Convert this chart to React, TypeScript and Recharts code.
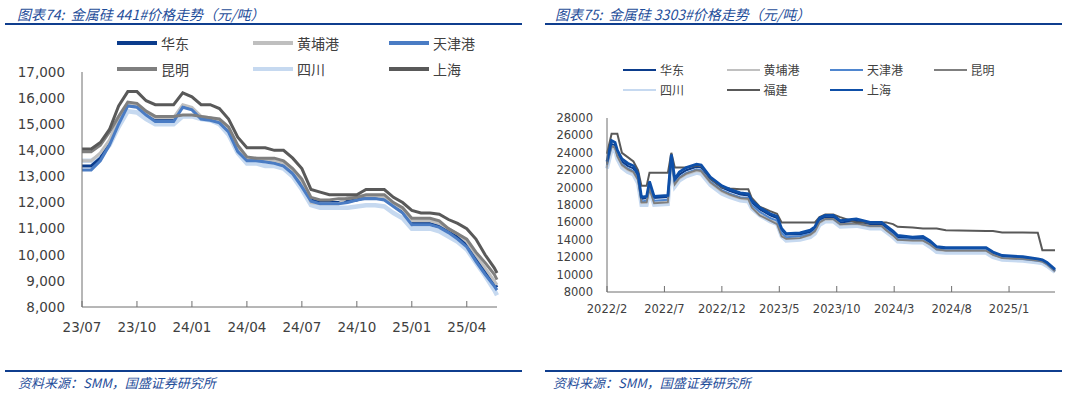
import { LineChart, Line, XAxis, YAxis } from 'recharts'

// ---- 图表74: 金属硅 441# (x = months since 2023/07) ----
const L_MONTHS = [0, 0.5, 1, 1.5, 2, 2.5, 3, 3.5, 4, 4.5, 5, 5.5, 6, 6.5, 7, 7.5, 8, 8.5, 9, 9.5, 10, 10.5, 11, 11.5, 12, 12.5, 13, 13.5, 14, 14.5, 15, 15.5, 16, 16.5, 17, 17.5, 18, 18.5, 19, 19.5, 20, 20.5, 21, 21.5, 22, 22.5, 22.65]
const L_HD = [13400, 13400, 13700, 14300, 15100, 15750, 15700, 15400, 15200, 15200, 15200, 15700, 15600, 15250, 15200, 15100, 14800, 14000, 13650, 13650, 13600, 13550, 13450, 13200, 12700, 12100, 12000, 12000, 12000, 12050, 12100, 12200, 12200, 12150, 11900, 11700, 11200, 11200, 11200, 11100, 10900, 10700, 10400, 9900, 9400, 8900, 8750]
const L_HP = [13600, 13600, 13900, 14400, 15200, 15800, 15750, 15450, 15250, 15250, 15250, 15750, 15650, 15300, 15250, 15150, 14850, 14100, 13700, 13700, 13650, 13600, 13500, 13250, 12800, 12000, 11950, 11950, 11950, 12200, 12250, 12250, 12250, 12200, 11950, 11750, 11300, 11300, 11300, 11200, 11000, 10800, 10500, 10000, 9500, 9000, 8850]
const L_TJ = [13250, 13250, 13600, 14200, 15000, 15700, 15650, 15350, 15100, 15100, 15100, 15650, 15550, 15200, 15150, 15050, 14700, 13950, 13600, 13600, 13550, 13500, 13400, 13100, 12600, 12050, 11950, 11950, 11950, 12000, 12100, 12150, 12150, 12100, 11850, 11600, 11150, 11150, 11150, 11050, 10850, 10600, 10300, 9750, 9250, 8800, 8650]
const L_KM = [13950, 13950, 14200, 14700, 15300, 15850, 15800, 15500, 15300, 15300, 15300, 15350, 15350, 15300, 15250, 15200, 14900, 14200, 13750, 13700, 13700, 13700, 13600, 13300, 12900, 12200, 12100, 12100, 12150, 12150, 12200, 12300, 12300, 12300, 12000, 11800, 11400, 11400, 11400, 11300, 11000, 10800, 10600, 10100, 9700, 9250, 9050]
const L_SC = [13600, 13600, 13800, 14200, 14900, 15500, 15450, 15200, 15000, 15000, 15000, 15300, 15300, 15200, 15150, 15000, 14600, 13900, 13500, 13500, 13400, 13400, 13300, 13000, 12500, 11900, 11800, 11800, 11800, 11800, 11850, 11900, 11900, 11850, 11600, 11400, 11000, 11000, 11000, 10900, 10700, 10500, 10200, 9700, 9200, 8650, 8450]
const L_SH = [14050, 14050, 14300, 14800, 15700, 16250, 16250, 15900, 15750, 15750, 15750, 16200, 16050, 15750, 15750, 15600, 15200, 14500, 14100, 14100, 14100, 14000, 14000, 13700, 13300, 12500, 12400, 12300, 12300, 12300, 12300, 12500, 12500, 12500, 12200, 12000, 11700, 11600, 11600, 11550, 11350, 11200, 11000, 10600, 10000, 9500, 9300]
const L_TICKS = [0, 3, 6, 9, 12, 15, 18, 21]
const L_TICK_LABELS = ['23/07', '23/10', '24/01', '24/04', '24/07', '24/10', '25/01', '25/04']
const L_Y_TICKS = [8000, 9000, 10000, 11000, 12000, 13000, 14000, 15000, 16000, 17000]

// ---- 图表75: 金属硅 3303# (x = months since 2022/02) ----
const R_MONTHS = [0, 0.4, 0.7, 0.9, 1.3, 1.8, 2.3, 2.7, 3.0, 3.45, 3.7, 4.1, 5.3, 5.6, 5.9, 6.3, 6.9, 7.8, 8.2, 9.0, 10.0, 10.7, 11.6, 12.3, 12.6, 13.3, 14.2, 14.8, 15.2, 15.6, 16.8, 17.7, 18.1, 18.5, 19.0, 19.7, 20.3, 21.7, 22.9, 23.9, 24.3, 24.9, 25.3, 26.6, 27.5, 28.1, 28.7, 29.5, 33.0, 33.6, 34.4, 36.2, 37.5, 37.9, 38.3, 39]
const R_HD = [22800, 25000, 24900, 24000, 23000, 22500, 22200, 21300, 18700, 18800, 20400, 18800, 18900, 23500, 20800, 21500, 22000, 22400, 22300, 21000, 20000, 19600, 19200, 19100, 18300, 17500, 16800, 16500, 15100, 14600, 14600, 14900, 15300, 16300, 16600, 16600, 16000, 16200, 15800, 15800, 15400, 14800, 14300, 14200, 14200, 13700, 13100, 13000, 13000, 12500, 12100, 11950, 11700, 11600, 11300, 10500]
const R_HP = [22400, 24600, 24400, 23500, 22500, 22000, 21700, 20800, 18200, 18300, 19900, 18300, 18400, 23000, 20300, 21000, 21500, 21900, 21800, 20500, 19500, 19100, 18700, 18600, 17800, 17000, 16300, 16000, 14600, 14100, 14200, 14500, 14900, 15900, 16300, 16300, 15700, 15800, 15500, 15500, 15100, 14500, 14000, 13900, 13900, 13400, 12800, 12700, 12700, 12200, 11900, 11750, 11550, 11450, 11100, 10300]
const R_TJ = [22600, 24800, 24600, 23700, 22700, 22200, 21900, 21000, 18400, 18500, 20100, 18500, 18600, 23200, 20500, 21200, 21700, 22100, 22000, 20700, 19700, 19300, 18900, 18800, 18000, 17200, 16500, 16200, 14800, 14300, 14400, 14700, 15100, 16100, 16400, 16400, 15800, 15900, 15600, 15600, 15200, 14600, 14100, 14000, 14000, 13500, 12900, 12800, 12800, 12300, 11950, 11800, 11600, 11500, 11200, 10400]
const R_KM = [22700, 24800, 24600, 23600, 22600, 22100, 21800, 20900, 18300, 18300, 19800, 18200, 18300, 23300, 20400, 21100, 21600, 22000, 21900, 20600, 19600, 19200, 18800, 18700, 17700, 16800, 16200, 15800, 14400, 14100, 14200, 14600, 15000, 16000, 16400, 16400, 15800, 15900, 15600, 15600, 15100, 14500, 14000, 13900, 13900, 13500, 12900, 12750, 12750, 12300, 11900, 11800, 11600, 11500, 11200, 10400]
const R_SC = [22200, 24300, 24200, 23300, 22300, 21800, 21500, 20500, 18000, 18000, 19600, 18000, 18100, 22800, 20100, 20800, 21300, 21700, 21600, 20300, 19300, 18900, 18500, 18400, 17600, 16800, 16100, 15800, 14400, 13900, 14000, 14300, 14700, 15700, 16100, 16100, 15500, 15600, 15300, 15300, 14900, 14300, 13800, 13700, 13700, 13200, 12600, 12500, 12500, 12000, 11700, 11600, 11400, 11300, 11000, 10300]
const R_FJ = [23900, 26200, 26200, 26200, 24000, 23500, 23000, 22000, 20200, 20200, 21700, 21700, 21700, 24000, 22300, 22300, 22300, 22500, 22500, 21000, 20000, 19900, 19800, 19800, 18800, 17800, 17300, 17000, 16000, 16000, 16000, 16000, 16000, 16600, 16900, 16900, 16600, 16000, 16000, 16000, 16000, 15800, 15500, 15400, 15300, 15300, 15300, 15100, 15000, 15000, 14850, 14850, 14800, 12800, 12800, 12800]
const R_SH = [23000, 25400, 25200, 24300, 23300, 22800, 22500, 21600, 18900, 19000, 20700, 19000, 19100, 23800, 21000, 21800, 22300, 22700, 22600, 21200, 20200, 19800, 19400, 19300, 18500, 17700, 17000, 16700, 15300, 14700, 14800, 15100, 15500, 16500, 16800, 16800, 16200, 16400, 16000, 16000, 15600, 15000, 14500, 14300, 14400, 13900, 13200, 13100, 13100, 12600, 12200, 12050, 11800, 11700, 11400, 10600]
const R_TICKS = [0, 5, 10, 15, 20, 25, 30, 35]
const R_TICK_LABELS = ['2022/2', '2022/7', '2022/12', '2023/5', '2023/10', '2024/3', '2024/8', '2025/1']
const R_Y_TICKS = [8000, 10000, 12000, 14000, 16000, 18000, 20000, 22000, 24000, 26000, 28000]

const leftData = L_MONTHS.map((m, i) => ({
  m, hd: L_HD[i], hp: L_HP[i], tj: L_TJ[i], km: L_KM[i], sc: L_SC[i], sh: L_SH[i],
}))
const rightData = R_MONTHS.map((m, i) => ({
  m, hd: R_HD[i], hp: R_HP[i], tj: R_TJ[i], km: R_KM[i], sc: R_SC[i], fj: R_FJ[i], sh: R_SH[i],
}))

interface Series { key: string; name: string; color: string; width: number }

// legend order
const LEFT_SERIES: Series[] = [
  { key: 'hd', name: '华东', color: '#0B3C8C', width: 3 },
  { key: 'hp', name: '黄埔港', color: '#BFBFBF', width: 3 },
  { key: 'tj', name: '天津港', color: '#4A7CC4', width: 3 },
  { key: 'km', name: '昆明', color: '#7F7F7F', width: 3 },
  { key: 'sc', name: '四川', color: '#C6D9F0', width: 4.5 },
  { key: 'sh', name: '上海', color: '#595959', width: 3 },
]
const RIGHT_SERIES: Series[] = [
  { key: 'hd', name: '华东', color: '#0B3C8C', width: 2 },
  { key: 'hp', name: '黄埔港', color: '#C0C0C0', width: 1.8 },
  { key: 'tj', name: '天津港', color: '#4F86CF', width: 2 },
  { key: 'km', name: '昆明', color: '#7F7F7F', width: 1.8 },
  { key: 'sc', name: '四川', color: '#C6D9F0', width: 4 },
  { key: 'fj', name: '福建', color: '#595959', width: 2 },
  { key: 'sh', name: '上海', color: '#0E4FA8', width: 2.8 },
]

// draw the wide light-blue line first so the others sit on it
const drawOrder = (list: Series[]) => [...list.filter((s) => s.key === 'sc'), ...list.filter((s) => s.key !== 'sc')]

const BLUE = '#1F4E9A'
const RULE = '#0F3E8E'
const AXIS = '#6F6F6F'
const TEXT = '#404040'
const CJK = '"Noto Sans CJK SC", "Noto Sans", sans-serif'

function Legend({ series, cols, x0, colStep, y0, rowStep, lineLen, lineW, fontSize }: {
  series: Series[]; cols: number; x0: number; colStep: number; y0: number; rowStep: number
  lineLen: number; lineW: number; fontSize: number
}) {
  return (
    <>
      {series.map((s, i) => {
        const left = x0 + (i % cols) * colStep
        const top = y0 + Math.floor(i / cols) * rowStep
        return (
          <div key={s.key} style={{ position: 'absolute', left, top: top - 10, height: 20, display: 'flex', alignItems: 'center' }}>
            <div style={{ width: lineLen, height: lineW, background: s.color, marginRight: 4 }} />
            <span style={{ fontFamily: CJK, fontSize, color: TEXT, lineHeight: '20px' }}>{s.name}</span>
          </div>
        )
      })}
    </>
  )
}

const titleStyle = {
  position: 'absolute' as const, top: 4, fontFamily: CJK, fontStyle: 'italic', fontSize: 14,
  color: BLUE, lineHeight: '20px', whiteSpace: 'nowrap' as const,
}
const sourceStyle = {
  position: 'absolute' as const, top: 374, fontFamily: CJK, fontStyle: 'italic', fontSize: 13,
  color: BLUE, lineHeight: '18px', whiteSpace: 'nowrap' as const,
}

export default function App() {
  return (
    <div style={{ position: 'absolute', left: 0, top: 0, width: 1065, height: 397, background: '#fff', overflow: 'hidden' }}>
      <div style={{ ...titleStyle, left: 17 }}>图表74:&nbsp; 金属硅 441#价格走势（元/吨）</div>
      <div style={{ ...titleStyle, left: 555 }}>图表75:&nbsp; 金属硅 3303#价格走势（元/吨）</div>
      <div style={{ position: 'absolute', left: 5, top: 23, width: 517, height: 2, background: RULE }} />
      <div style={{ position: 'absolute', left: 545, top: 23, width: 517, height: 2, background: RULE }} />
      <div style={{ position: 'absolute', left: 5, top: 370, width: 517, height: 2, background: RULE }} />
      <div style={{ position: 'absolute', left: 545, top: 370, width: 517, height: 2, background: RULE }} />
      <div style={{ ...sourceStyle, left: 18 }}>资料来源：SMM，国盛证券研究所</div>
      <div style={{ ...sourceStyle, left: 553 }}>资料来源：SMM，国盛证券研究所</div>

      <div style={{ position: 'absolute', left: 0, top: 60 }}>
        <LineChart width={520} height={290} data={leftData} margin={{ top: 12, right: 23, bottom: 0, left: 0 }}>
          <XAxis
            dataKey="m" type="number" domain={[0, 22.65]} ticks={L_TICKS} interval={0}
            tickFormatter={(v: number) => L_TICK_LABELS[L_TICKS.indexOf(v)]}
            height={43} tickSize={-6} tickMargin={21}
            axisLine={{ stroke: AXIS }} tickLine={{ stroke: AXIS }}
            tick={{ fill: TEXT, fontSize: 13.5, fontFamily: 'DejaVu Sans' }}
          />
          <YAxis
            type="number" domain={[8000, 17000]} ticks={L_Y_TICKS} interval={0} width={82}
            tickFormatter={(v: number) => v.toLocaleString('en-US')}
            tickSize={0} tickMargin={17} tickLine={false}
            axisLine={{ stroke: AXIS }}
            tick={{ fill: TEXT, fontSize: 13.5, fontFamily: 'DejaVu Sans' }}
          />
          {drawOrder(LEFT_SERIES).map((s) => (
            <Line key={s.key} type="linear" dataKey={s.key} name={s.name} stroke={s.color}
              strokeWidth={s.width} dot={false} isAnimationActive={false} />
          ))}
        </LineChart>
      </div>

      <div style={{ position: 'absolute', left: 530, top: 100 }}>
        <LineChart width={530} height={220} data={rightData} margin={{ top: 18, right: 5, bottom: 0, left: 0 }}>
          <XAxis
            dataKey="m" type="number" domain={[0, 39]} ticks={R_TICKS} interval={0}
            tickFormatter={(v: number) => R_TICK_LABELS[R_TICKS.indexOf(v)]}
            height={28} tickSize={-6} tickMargin={19}
            axisLine={{ stroke: AXIS }} tickLine={{ stroke: AXIS }}
            tick={{ fill: TEXT, fontSize: 11.5, fontFamily: 'DejaVu Sans' }}
          />
          <YAxis
            type="number" domain={[8000, 28000]} ticks={R_Y_TICKS} interval={0} width={77}
            tickSize={0} tickMargin={14} tickLine={false}
            axisLine={{ stroke: AXIS }}
            tick={{ fill: TEXT, fontSize: 11.5, fontFamily: 'DejaVu Sans' }}
          />
          {drawOrder(RIGHT_SERIES).map((s) => (
            <Line key={s.key} type="linear" dataKey={s.key} name={s.name} stroke={s.color}
              strokeWidth={s.width} dot={false} isAnimationActive={false} />
          ))}
        </LineChart>
      </div>

      <Legend series={LEFT_SERIES} cols={3} x0={117} colStep={136} y0={43} rowStep={26} lineLen={40} lineW={4} fontSize={14} />
      <Legend series={RIGHT_SERIES} cols={4} x0={623} colStep={103.5} y0={70} rowStep={20} lineLen={33} lineW={2} fontSize={12} />
    </div>
  )
}
